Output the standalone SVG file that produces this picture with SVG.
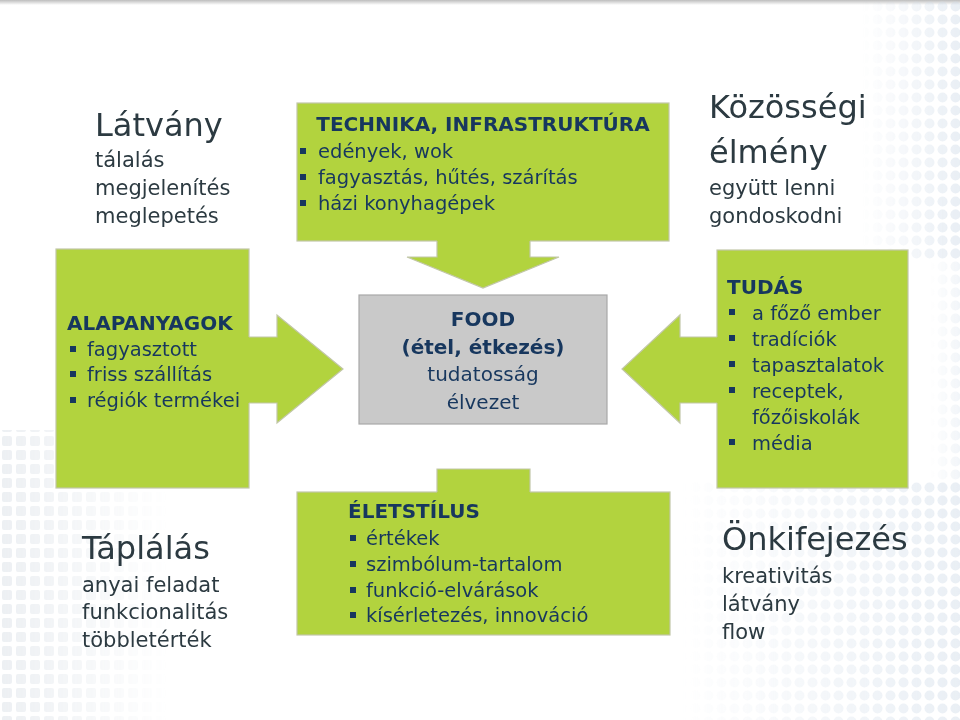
<svg xmlns="http://www.w3.org/2000/svg" width="960" height="720" viewBox="0 0 960 720">
  <style>
    .box { fill: #b2d33e; stroke: #c2c7a8; stroke-width: 1.2; }
    .arrfill { fill: #b2d33e; stroke: none; }
    .arredge { fill: none; stroke: #c2c7a8; stroke-width: 1.2; stroke-linejoin: miter; }
    .food { fill: #c9c9c9; stroke: #a9a9a9; stroke-width: 1.2; }
    .t { font-family: "DejaVu Sans", Verdana, sans-serif; fill: #17375e; }
    .h { font-weight: bold; font-size: 20px; }
    .b { font-size: 19.5px; }
    .o { font-family: "DejaVu Sans", Verdana, sans-serif; fill: #2c3a41; }
    .big { font-size: 32px; }
    .sub { font-size: 21px; }
    .bul { fill: #17375e; }
  </style>
  <defs>
    <pattern id="dots" x="0" y="0" width="13" height="13" patternUnits="userSpaceOnUse">
      <circle cx="6.5" cy="6.5" r="5" fill="#cfdbe8"/>
    </pattern>
    <pattern id="sq" x="0" y="0" width="14" height="14" patternUnits="userSpaceOnUse">
      <rect x="2" y="2" width="10" height="10" rx="2" fill="#d6dde4"/>
    </pattern>
    <linearGradient id="fadeL" x1="0" y1="0" x2="1" y2="0">
      <stop offset="0" stop-color="#fff" stop-opacity="0"/>
      <stop offset="1" stop-color="#fff" stop-opacity="1"/>
    </linearGradient>
    <linearGradient id="fadeR" x1="0" y1="0" x2="1" y2="0">
      <stop offset="0" stop-color="#fff" stop-opacity="1"/>
      <stop offset="1" stop-color="#fff" stop-opacity="0"/>
    </linearGradient>
    <linearGradient id="topline" x1="0" y1="0" x2="0" y2="1">
      <stop offset="0" stop-color="#bdbdbd"/>
      <stop offset="1" stop-color="#ffffff"/>
    </linearGradient>
    <mask id="mTR">
      <rect x="860" y="0" width="100" height="260" fill="url(#fadeL)"/>
    </mask>
    <mask id="mBR">
      <rect x="680" y="480" width="280" height="240" fill="url(#fadeL)"/>
    </mask>
    <mask id="mBL">
      <rect x="0" y="430" width="170" height="290" fill="url(#fadeR)"/>
    </mask>
    <mask id="mR">
      <rect x="930" y="200" width="30" height="320" fill="url(#fadeL)"/>
    </mask>
  </defs>

  <!-- background -->
  <rect x="0" y="0" width="960" height="720" fill="#ffffff"/>
  <rect x="0" y="0" width="960" height="5" fill="url(#topline)"/>
  <g opacity="0.45">
    <rect x="860" y="0" width="100" height="260" fill="url(#dots)" mask="url(#mTR)"/>
    <rect x="930" y="200" width="30" height="320" fill="url(#dots)" mask="url(#mR)" opacity="0.6"/>
    <rect x="680" y="480" width="280" height="240" fill="url(#dots)" mask="url(#mBR)"/>
    <rect x="0" y="430" width="170" height="290" fill="url(#sq)" mask="url(#mBL)"/>
  </g>

  <!-- nodes -->
  <g id="technika">
    <rect class="box" x="297" y="103" width="372" height="138"/>
    <text class="t h" x="483" y="131" text-anchor="middle">TECHNIKA, INFRASTRUKTÚRA</text>
    <rect class="bul" x="300" y="148" width="6" height="6"/>
    <text class="t b" x="318" y="158">edények, wok</text>
    <rect class="bul" x="300" y="174" width="6" height="6"/>
    <text class="t b" x="318" y="184">fagyasztás, hűtés, szárítás</text>
    <rect class="bul" x="300" y="200" width="6" height="6"/>
    <text class="t b" x="318" y="210">házi konyhagépek</text>
  </g>

  <g id="alapanyagok">
    <rect class="box" x="56" y="249" width="193" height="239"/>
    <text class="t h" x="67" y="330">ALAPANYAGOK</text>
    <rect class="bul" x="70" y="346" width="6" height="6"/>
    <text class="t b" x="87" y="356">fagyasztott</text>
    <rect class="bul" x="70" y="371" width="6" height="6"/>
    <text class="t b" x="87" y="381">friss szállítás</text>
    <rect class="bul" x="70" y="397" width="6" height="6"/>
    <text class="t b" x="87" y="407">régiók termékei</text>
  </g>

  <g id="food">
    <rect class="food" x="359" y="295" width="248" height="129"/>
    <text class="t h" x="483" y="326" text-anchor="middle">FOOD</text>
    <text class="t h" x="483" y="354" text-anchor="middle">(étel, étkezés)</text>
    <text class="t" x="483" y="381" text-anchor="middle" font-size="20">tudatosság</text>
    <text class="t" x="483" y="409" text-anchor="middle" font-size="20">élvezet</text>
  </g>

  <g id="tudas">
    <rect class="box" x="717" y="250" width="191" height="238"/>
    <text class="t h" x="727" y="294">TUDÁS</text>
    <rect class="bul" x="729" y="309" width="6" height="6"/>
    <text class="t b" x="752" y="320">a főző ember</text>
    <rect class="bul" x="729" y="335" width="6" height="6"/>
    <text class="t b" x="752" y="346">tradíciók</text>
    <rect class="bul" x="729" y="361" width="6" height="6"/>
    <text class="t b" x="752" y="372">tapasztalatok</text>
    <rect class="bul" x="729" y="387" width="6" height="6"/>
    <text class="t b" x="752" y="398">receptek,</text>
    <text class="t b" x="752" y="424">főzőiskolák</text>
    <rect class="bul" x="729" y="439" width="6" height="6"/>
    <text class="t b" x="752" y="450">média</text>
  </g>

  <g id="eletstilus">
    <rect class="box" x="297" y="492" width="373" height="143"/>
    <text class="t h" x="348" y="518">ÉLETSTÍLUS</text>
    <rect class="bul" x="350" y="535" width="6" height="6"/>
    <text class="t b" x="366" y="545">értékek</text>
    <rect class="bul" x="350" y="561" width="6" height="6"/>
    <text class="t b" x="366" y="571">szimbólum-tartalom</text>
    <rect class="bul" x="350" y="587" width="6" height="6"/>
    <text class="t b" x="366" y="597">funkció-elvárások</text>
    <rect class="bul" x="350" y="612" width="6" height="6"/>
    <text class="t b" x="366" y="622">kísérletezés, innováció</text>
  </g>

  <g id="latvany">
    <text class="o big" x="95" y="136">Látvány</text>
    <text class="o sub" x="95" y="167">tálalás</text>
    <text class="o sub" x="95" y="195">megjelenítés</text>
    <text class="o sub" x="95" y="223">meglepetés</text>
  </g>

  <g id="kozossegi">
    <text class="o big" x="709" y="118">Közösségi</text>
    <text class="o big" x="709" y="163">élmény</text>
    <text class="o sub" x="709" y="195">együtt lenni</text>
    <text class="o sub" x="709" y="223">gondoskodni</text>
  </g>

  <g id="taplalas">
    <text class="o big" x="82" y="559">Táplálás</text>
    <text class="o sub" x="82" y="592">anyai feladat</text>
    <text class="o sub" x="82" y="619">funkcionalitás</text>
    <text class="o sub" x="82" y="647">többletérték</text>
  </g>

  <g id="onkifejezes">
    <text class="o big" x="722" y="550">Önkifejezés</text>
    <text class="o sub" x="722" y="583">kreativitás</text>
    <text class="o sub" x="722" y="611">látvány</text>
    <text class="o sub" x="722" y="639">flow</text>
  </g>

  <!-- connectors (block arrows) -->
  <g id="connectors">
    <polygon class="arrfill" points="437,239.5 530,239.5 530,257 559,257 483,288 407,257 437,257"/>
    <polyline class="arredge" points="437,241 437,257 407,257 483,288 559,257 530,257 530,241"/>

    <polygon class="arrfill" points="247.5,337 277,337 277,315 343,369 277,423 277,403 247.5,403"/>
    <polyline class="arredge" points="249,337 277,337 277,315 343,369 277,423 277,403 249,403"/>

    <polygon class="arrfill" points="718.5,337 680,337 680,315 622,369 680,423 680,403 718.5,403"/>
    <polyline class="arredge" points="717,337 680,337 680,315 622,369 680,423 680,403 717,403"/>

    <polygon class="arrfill" points="437,469 530,469 530,493.5 437,493.5"/>
    <polyline class="arredge" points="437,492 437,469 530,469 530,492"/>
  </g>
</svg>
